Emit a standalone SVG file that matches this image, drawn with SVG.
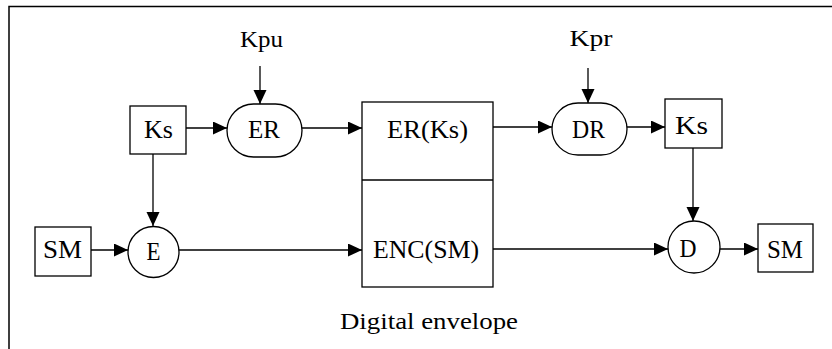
<svg xmlns="http://www.w3.org/2000/svg" width="832" height="349" viewBox="0 0 832 349">
<defs>
<marker id="ah" markerUnits="userSpaceOnUse" markerWidth="15" markerHeight="14" refX="14" refY="6.5" orient="auto">
<path d="M0,0 L14,6.5 L0,13 z" fill="#000"/>
</marker>
<style>
.s{fill:#fff;stroke:#000;stroke-width:1.3}
.t{font-family:"Liberation Serif","Times New Roman",serif;font-size:26px;fill:#000;text-anchor:middle}
.k{font-family:"Liberation Serif","Times New Roman",serif;font-size:24px;fill:#000;text-anchor:middle}
.c{fill:none;stroke:#000;stroke-width:1.3;marker-end:url(#ah)}
</style>
</defs>
<rect width="832" height="349" fill="#fff"/>
<g id="frame" fill="none" stroke="#000" stroke-width="1.5">
<path d="M9,349 V6.5 H832"/>
</g>
<g id="connectors">
<line class="c" x1="260" y1="66" x2="260" y2="104"/>
<line class="c" x1="588" y1="68" x2="588" y2="103"/>
<line class="c" x1="186" y1="128" x2="227" y2="128"/>
<line class="c" x1="302" y1="128" x2="362" y2="128"/>
<line class="c" x1="493" y1="127" x2="552" y2="127"/>
<line class="c" x1="627" y1="127" x2="665" y2="127"/>
<line class="c" x1="153" y1="154" x2="153" y2="226"/>
<line class="c" x1="693" y1="148" x2="693" y2="221"/>
<line class="c" x1="91" y1="250" x2="128" y2="250"/>
<line class="c" x1="179" y1="250" x2="362" y2="250"/>
<line class="c" x1="493" y1="249" x2="668" y2="249"/>
<line class="c" x1="720" y1="249" x2="758" y2="249"/>
</g>
<g id="Kpu"><text class="k" x="261.5" y="47" textLength="43" lengthAdjust="spacingAndGlyphs">Kpu</text></g>
<g id="Kpr"><text class="k" x="591" y="46" textLength="43" lengthAdjust="spacingAndGlyphs">Kpr</text></g>
<g id="Ks1"><rect class="s" x="130" y="106" width="56" height="48"/><text class="t" x="158.5" y="138" textLength="29" lengthAdjust="spacingAndGlyphs">Ks</text></g>
<g id="ER"><rect class="s" x="227" y="104" width="75" height="53" rx="26.5" ry="26.5"/><text class="t" x="264" y="138" textLength="32" lengthAdjust="spacingAndGlyphs">ER</text></g>
<g id="envelope"><rect class="s" x="362" y="102" width="131" height="185"/><line x1="362" y1="180" x2="493" y2="180" stroke="#000" stroke-width="1.3"/>
<text class="t" x="427.5" y="138" textLength="81" lengthAdjust="spacingAndGlyphs">ER(Ks)</text>
<text class="t" x="426" y="258" textLength="106" lengthAdjust="spacingAndGlyphs">ENC(SM)</text>
<text class="k" x="429" y="329" textLength="178" lengthAdjust="spacingAndGlyphs">Digital envelope</text></g>
<g id="DR"><rect class="s" x="552" y="103" width="75" height="52" rx="26" ry="26"/><text class="t" x="588.5" y="138" textLength="33" lengthAdjust="spacingAndGlyphs">DR</text></g>
<g id="Ks2"><rect class="s" x="665" y="99" width="57" height="49"/><text class="t" x="691.5" y="134" textLength="33" lengthAdjust="spacingAndGlyphs">Ks</text></g>
<g id="SM1"><rect class="s" x="35" y="227" width="56" height="49"/><text class="t" x="62.5" y="258" textLength="39" lengthAdjust="spacingAndGlyphs">SM</text></g>
<g id="E"><circle class="s" cx="153.5" cy="252" r="25.5"/><text class="t" x="153.5" y="260" textLength="14" lengthAdjust="spacingAndGlyphs">E</text></g>
<g id="D"><circle class="s" cx="694" cy="247" r="26"/><text class="t" x="688" y="257" textLength="17" lengthAdjust="spacingAndGlyphs">D</text></g>
<g id="SM2"><rect class="s" x="758" y="224" width="55" height="48"/><text class="t" x="785" y="258" textLength="36" lengthAdjust="spacingAndGlyphs">SM</text></g>
</svg>
